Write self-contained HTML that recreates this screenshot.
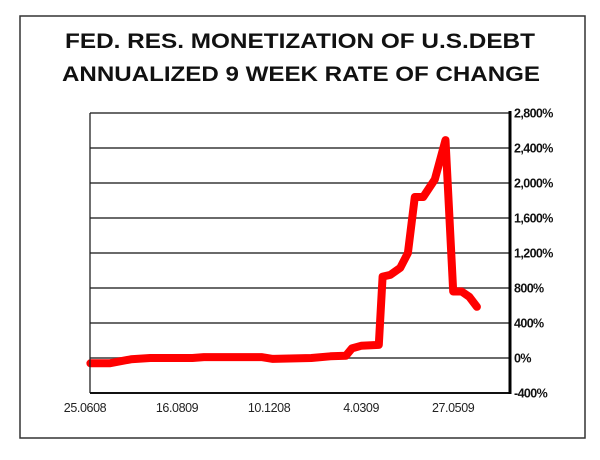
<!DOCTYPE html>
<html><head><meta charset="utf-8"><style>
html,body{margin:0;padding:0;background:#fff;width:600px;height:460px;overflow:hidden}
svg{display:block}
text{font-family:"Liberation Sans",Arial,sans-serif}
</style></head><body>
<svg id="chart" width="600" height="460">
<rect x="20" y="16" width="565" height="422" fill="none" stroke="#333" stroke-width="1.5"/>
<text x="300" y="48" text-anchor="middle" font-size="21" font-weight="bold" textLength="470" lengthAdjust="spacingAndGlyphs" fill="#111">FED. RES. MONETIZATION OF U.S.DEBT</text>
<text x="301" y="81" text-anchor="middle" font-size="21" font-weight="bold" textLength="478" lengthAdjust="spacingAndGlyphs" fill="#111">ANNUALIZED 9 WEEK RATE OF CHANGE</text>
<g id="grid"></g><g id="series"></g><g id="axes"></g>
</svg>
<script>
const yTicks=[-400,0,400,800,1200,1600,2000,2400,2800];
const yTickLabels=["-400%","0%","400%","800%","1,200%","1,600%","2,000%","2,400%","2,800%"];
const xTickIdx=[0,12,24,36,48];
const xTickLabels=["25.0608","16.0809","10.1208","4.0309","27.0509"];
const weekIdx=[0.7,3.2,6.0,8.5,14.0,15.5,23.0,24.5,29.5,32.0,34.0,34.8,36.0,38.3,38.8,39.8,41.1,42.1,43.0,44.1,45.6,47.0,48.0,49.1,50.1,51.1];
const rateValues=[-60,-60,-15,0,0,10,10,-10,0,20,25,110,140,150,930,950,1030,1200,1840,1840,2040,2490,760,760,700,585];

const NS="http://www.w3.org/2000/svg";
const L=90,R=510,T=113,B=393;
const yMin=-400,yMax=2800;
function y(v){return B-(v-yMin)/(yMax-yMin)*(B-T);}
function x(i){return 85+i*7.67;}
function mk(tag,attrs,parent){const e=document.createElementNS(NS,tag);for(const k in attrs)e.setAttribute(k,attrs[k]);parent.appendChild(e);return e;}
const grid=document.getElementById('grid'),series=document.getElementById('series'),axes=document.getElementById('axes');
yTicks.forEach((v,k)=>{
  if(v!==yMin){
    const g=mk('line',{x1:L,x2:R,y1:y(v),y2:y(v),stroke:'#555','stroke-width':1.8},grid);
    
    
  }
  const t=mk('text',{x:R+4,y:y(v)+4.5,'font-size':12.5,'font-weight':'bold',fill:'#111','letter-spacing':'-0.6'},axes);
  t.textContent=yTickLabels[k];
  
  
});
xTickIdx.forEach((i,k)=>{
  const t=mk('text',{x:x(i),y:412,'text-anchor':'middle','font-size':12.5,fill:'#222','letter-spacing':'-0.4'},axes);
  t.textContent=xTickLabels[k];
  
  
});
const la=mk('line',{x1:L,x2:L,y1:T,y2:B,stroke:'#222','stroke-width':1.3},axes);


const ba=mk('line',{x1:L,x2:R,y1:B,y2:B,stroke:'#111','stroke-width':2},axes);


const ra=mk('line',{x1:R,x2:R,y1:T-2,y2:B+1,stroke:'#000','stroke-width':3},axes);


const pts=weekIdx.map((i,k)=>x(i).toFixed(1)+','+y(rateValues[k]).toFixed(1)).join(' ');
const pl=mk('polyline',{points:pts,fill:'none',stroke:'#ff0000','stroke-width':8,'stroke-linejoin':'round','stroke-linecap':'round'},series);


</script>
</body></html>
